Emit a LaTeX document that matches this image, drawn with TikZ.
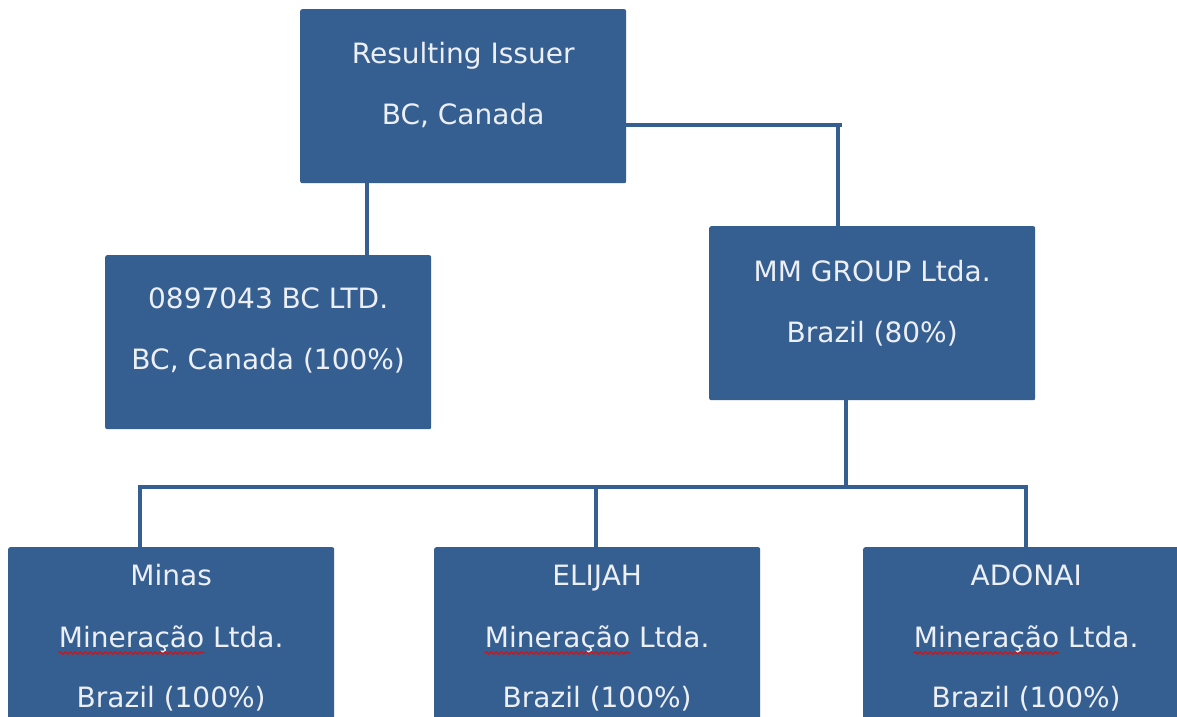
\documentclass[tikz,border=0pt]{standalone}
\usepackage{fontspec}
\setmainfont{DejaVu Sans}
\usetikzlibrary{calc,decorations.pathmorphing}
\definecolor{boxblue}{RGB}{54,95,145}
\definecolor{boxtext}{RGB}{236,239,244}
\definecolor{spellred}{RGB}{210,20,20}
\begin{document}
\begin{tikzpicture}[x=1pt,y=-1pt,
  orgbox/.style={fill=boxblue, rounded corners=2pt, minimum width=326pt, minimum height=174pt, anchor=north west, inner sep=0pt},
  lowbox/.style={orgbox, minimum height=200pt},
  lbl/.style={text=boxtext, font=\fontsize{28}{30}\selectfont, anchor=base, inner sep=0pt},
  link/.style={draw=boxblue, line width=3.5pt},
  squig/.style={draw=spellred, line width=1.3pt, decorate, decoration={snake, amplitude=1.2pt, segment length=5pt}}]
\useasboundingbox (0,0) rectangle (1177,716);
\clip (0,0) rectangle (1177,716);
\fill[white] (0,0) rectangle (1177,716);

% boxes
\node[orgbox] (top) at (300,9) {};
\node[orgbox] (bc) at (105,255) {};
\node[orgbox] (mm) at (709,226) {};
\node[lowbox] (minas) at (8,547) {};
\node[lowbox] (elijah) at (434,547) {};
\node[lowbox] (adonai) at (863,547) {};

% texts
\node[lbl] (t1) at ($(top.north)+(0,54)$) {Resulting Issuer};
\node[lbl] (t2) at ($(top.north)+(0,115)$) {BC, Canada};
\node[lbl] (b1) at ($(bc.north)+(0,53)$) {0897043 BC LTD.};
\node[lbl] (b2) at ($(bc.north)+(0,114)$) {BC, Canada (100\%)};
\node[lbl] (g1) at ($(mm.north)+(0,55)$) {MM GROUP Ltda.};
\node[lbl] (g2) at ($(mm.north)+(0,116)$) {Brazil (80\%)};
\foreach \b/\n in {minas/Minas, elijah/ELIJAH, adonai/ADONAI}{
  \node[lbl] (\b1) at ($(\b.north)+(0,38)$) {\n};
  \node[lbl] (\b2) at ($(\b.north)+(0,100)$) {Mineração Ltda.};
  \node[lbl] (\b3) at ($(\b.north)+(0,160)$) {Brazil (100\%)};
  \draw[squig] ($(\b2.base west)+(0,6)$) -- ($(\b2.base west)!0.647!(\b2.base east)+(0,6)$);
}

% connectors
\coordinate (ja) at ($(top.south west)+(67,0)$);
\draw[link] (ja) -- (ja |- bc.north);
\coordinate (jr) at (842,125);
\coordinate (jd) at (838,125);
\draw[link] (top.east |- jr) -- (jr);
\draw[link] (jd) -- (jd |- mm.north);
\coordinate (jm) at (846,487);
\coordinate (busL) at (140,487);
\coordinate (busR) at (1028,487);
\coordinate (je) at (596,487);
\coordinate (jf) at (1026,489);
\draw[link] (jm |- mm.south) -- (jm);
\draw[link] (busL |- minas.north) -- (busL) -- (busR);
\draw[link] (je) -- (je |- elijah.north);
\draw[link] (jf) -- (jf |- adonai.north);
\end{tikzpicture}
\end{document}
